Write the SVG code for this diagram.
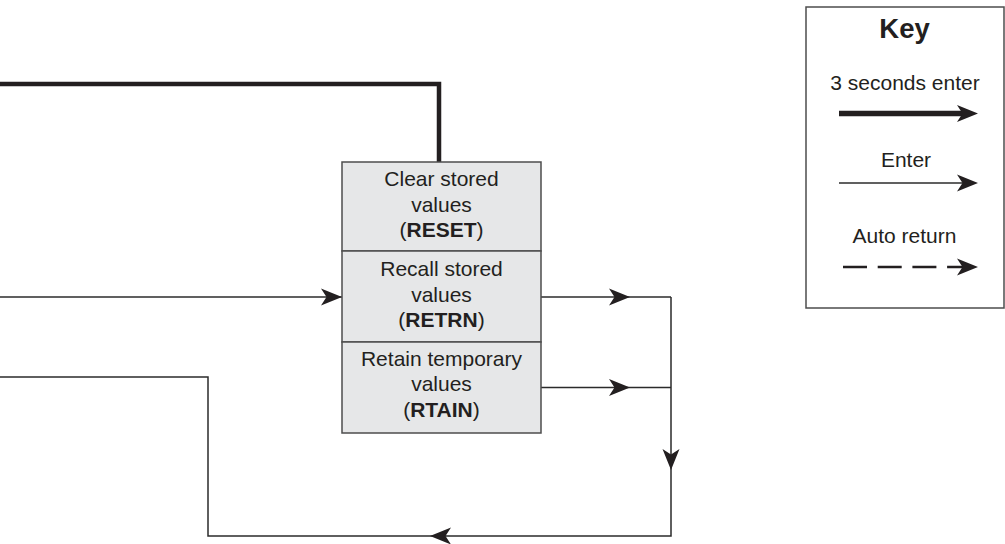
<svg xmlns="http://www.w3.org/2000/svg" xmlns:xlink="http://www.w3.org/1999/xlink" width="1005" height="544" viewBox="0 0 1005 544">
<style>
.t{font-family:"Liberation Sans",Arial,Helvetica,sans-serif;font-size:21px;fill:#231f20;text-anchor:middle}
.b{font-weight:bold}
.ln{fill:none;stroke:#2b2b2b;stroke-width:1.5}
.thick{fill:none;stroke:#231f20;stroke-width:4.5;stroke-linejoin:miter}
.box{fill:#e6e7e8;stroke:#4d4d4d;stroke-width:1.5}
.key{fill:#ffffff;stroke:#4d4d4d;stroke-width:1.5}
.ah{fill:#231f20}
</style>
<defs>
<path id="ah" d="M0,0 L-21,-8.5 L-15.5,0 L-21,8.5 Z"/>
</defs>
<rect width="1005" height="544" fill="#ffffff"/>

<g id="connectors">
<path class="thick" d="M0,84 H439 V162"/>
<path class="ln" d="M0,297 H342"/>
<use xlink:href="#ah" class="ah" transform="translate(342,297)"/>
<path class="ln" d="M541,297 H671"/>
<use xlink:href="#ah" class="ah" transform="translate(630,297)"/>
<path class="ln" d="M541,387.5 H671"/>
<use xlink:href="#ah" class="ah" transform="translate(630,387.5)"/>
<path class="ln" d="M671,297 V536 H208 V377 H0"/>
<use xlink:href="#ah" class="ah" transform="translate(671,470) rotate(90)"/>
<use xlink:href="#ah" class="ah" transform="translate(430,536) rotate(180)"/>
</g>

<g id="node-reset">
<rect class="box" x="342" y="162" width="199" height="89"/>
<text class="t" x="441.5" y="185.5">Clear stored</text>
<text class="t" x="441.5" y="211.5">values</text>
<text class="t" x="441.5" y="237">(<tspan class="b">RESET</tspan>)</text>
</g>

<g id="node-retrn">
<rect class="box" x="342" y="251" width="199" height="91"/>
<text class="t" x="441.5" y="275.5">Recall stored</text>
<text class="t" x="441.5" y="301.5">values</text>
<text class="t" x="441.5" y="327">(<tspan class="b">RETRN</tspan>)</text>
</g>

<g id="node-rtain">
<rect class="box" x="342" y="342" width="199" height="91"/>
<text class="t" x="441.5" y="365.5">Retain temporary</text>
<text class="t" x="441.5" y="391">values</text>
<text class="t" x="441.5" y="416.5">(<tspan class="b">RTAIN</tspan>)</text>
</g>

<g id="key">
<rect class="key" x="806" y="7" width="198" height="301"/>
<text class="t b" x="904.5" y="38" style="font-size:27.5px">Key</text>
<text class="t" x="905" y="89.5">3 seconds enter</text>
<path d="M839,113.5 H965" fill="none" stroke="#231f20" stroke-width="5.5"/>
<use xlink:href="#ah" class="ah" transform="translate(978,113.5)"/>
<text class="t" x="906" y="166.5">Enter</text>
<path class="ln" d="M839,183 H970"/>
<use xlink:href="#ah" class="ah" transform="translate(978,183)"/>
<text class="t" x="904.5" y="242.5">Auto return</text>
<path d="M843,267 H963" fill="none" stroke="#231f20" stroke-width="2.5" stroke-dasharray="24 10.7"/>
<use xlink:href="#ah" class="ah" transform="translate(978,267)"/>
</g>
</svg>
